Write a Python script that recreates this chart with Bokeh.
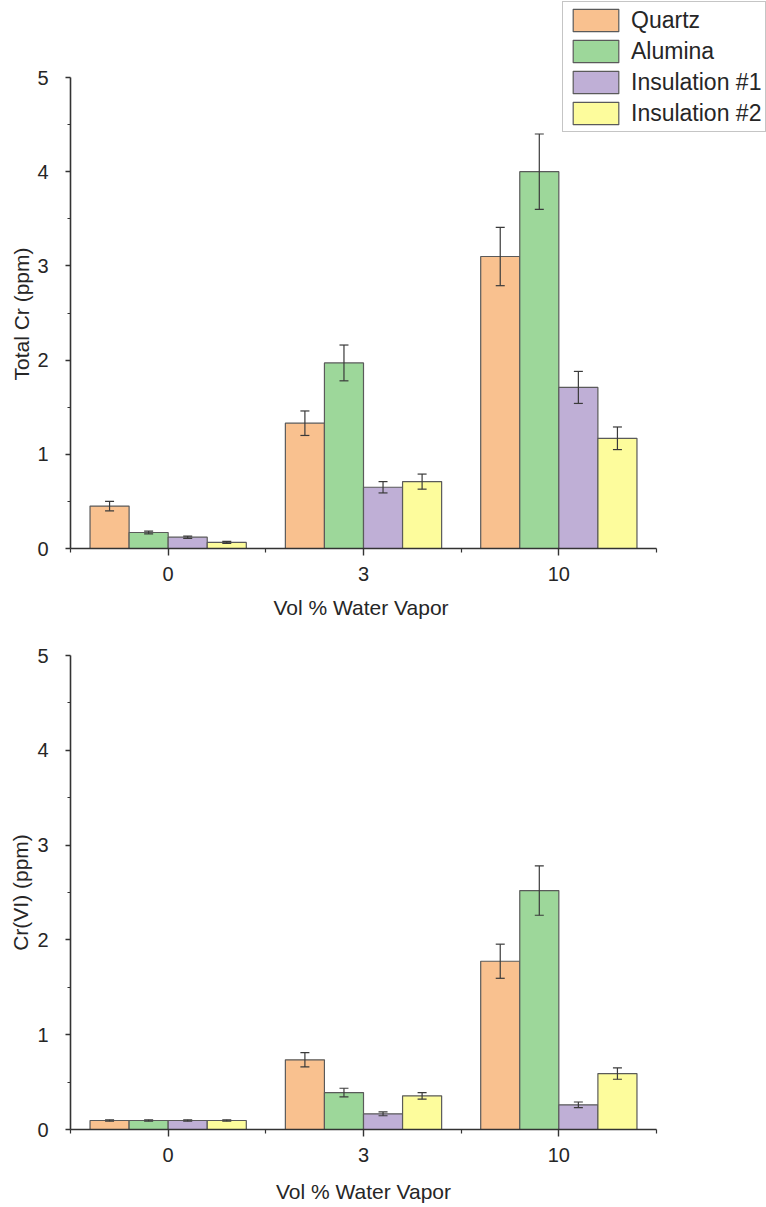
from bokeh.plotting import figure
from bokeh.layouts import column
from bokeh.models import (ColumnDataSource, Whisker, TeeHead, FixedTicker,
                          Legend, LegendItem, Range1d, Title)
from bokeh.transform import dodge
from bokeh.embed import file_html
from bokeh.resources import INLINE

# ---------------- data ----------------
categories = ["0", "3", "10"]          # Vol % water vapor
series = ["Quartz", "Alumina", "Insulation #1", "Insulation #2"]
colors = ["#F9C18F", "#9DD79A", "#BFAFD6", "#FDFC9C"]

# Total Cr (ppm)
total_quartz = [0.45, 1.33, 3.10]
total_quartz_err = [0.05, 0.13, 0.31]
total_alumina = [0.17, 1.97, 4.00]
total_alumina_err = [0.015, 0.19, 0.40]
total_ins1 = [0.12, 0.65, 1.71]
total_ins1_err = [0.012, 0.06, 0.17]
total_ins2 = [0.065, 0.71, 1.17]
total_ins2_err = [0.01, 0.08, 0.12]

# Cr(VI) (ppm)
cr6_quartz = [0.095, 0.735, 1.775]
cr6_quartz_err = [0.008, 0.075, 0.18]
cr6_alumina = [0.095, 0.39, 2.52]
cr6_alumina_err = [0.008, 0.045, 0.26]
cr6_ins1 = [0.095, 0.165, 0.26]
cr6_ins1_err = [0.008, 0.02, 0.03]
cr6_ins2 = [0.095, 0.355, 0.59]
cr6_ins2_err = [0.008, 0.035, 0.06]

x_label = "Vol % Water Vapor"
y_ticks = [0, 1, 2, 3, 4, 5]
y_minor = [0.5, 1.5, 2.5, 3.5, 4.5]
Y_MAX = 5

FONT = "Liberation Sans"
TXT = "#262626"
AX = "#333333"

AXIS_W = 586      # pixel length of the x axis (3 categories)
AXIS_H = 471      # pixel length of the y axis (0..5)
LEFT = 70


def style_axes(p, n):
    xa = p.xaxis[0]
    xa.ticker = FixedTicker(ticks=list(range(n)),
                            minor_ticks=[k - 0.5 for k in range(n + 1)])
    xa.major_label_overrides = {k: c for k, c in enumerate(categories)}
    xa.bounds = (-0.5, n - 0.5)
    ya = p.yaxis[0]
    ya.ticker = FixedTicker(ticks=y_ticks, minor_ticks=y_minor)
    ya.bounds = (0, Y_MAX)
    for ax in (xa, ya):
        ax.axis_line_color = AX
        ax.axis_line_width = 1.6
        ax.major_tick_line_color = AX
        ax.minor_tick_line_color = AX
        ax.major_tick_line_width = 1.4
        ax.minor_tick_line_width = 1.2
        ax.major_tick_in = 0
        ax.minor_tick_in = 0
        ax.major_label_text_font = FONT
        ax.major_label_text_font_size = "20px"
        ax.major_label_text_color = TXT
        ax.axis_label_text_font = FONT
        ax.axis_label_text_font_size = "21px"
        ax.axis_label_text_font_style = "normal"
        ax.axis_label_text_color = TXT
    xa.major_tick_out = 7
    xa.minor_tick_out = 4
    xa.major_label_standoff = 11
    xa.axis_label_standoff = 15
    ya.major_tick_out = 5
    ya.minor_tick_out = 3
    ya.major_label_standoff = 17
    ya.axis_label_standoff = 2
    return xa, ya


def add_bars(p, vals, errs):
    n = len(categories)
    group_w = 0.8
    bar_w = group_w / len(series)
    items = []
    for i, (name, col) in enumerate(zip(series, colors)):
        off = -group_w / 2 + bar_w * (i + 0.5)
        v = vals[i]
        e = errs[i]
        src = ColumnDataSource(dict(
            xi=list(range(n)), top=v,
            upper=[a + b for a, b in zip(v, e)],
            lower=[a - b for a, b in zip(v, e)]))
        r = p.vbar(x=dodge("xi", off, range=p.x_range), top="top", bottom=0,
                   width=bar_w, source=src, fill_color=col,
                   line_color="#5a5a5a", line_width=1.2)
        w = Whisker(base=dodge("xi", off, range=p.x_range), upper="upper",
                    lower="lower", source=src, dimension="height",
                    line_color="#3a3a3a", line_width=1.2, level="overlay",
                    upper_head=TeeHead(size=9, line_color="#3a3a3a", line_width=1.2),
                    lower_head=TeeHead(size=9, line_color="#3a3a3a", line_width=1.2))
        p.add_layout(w)
        items.append(LegendItem(label=name, renderers=[r]))
    return items


def base_fig(**kw):
    p = figure(output_backend="svg", toolbar_location=None, **kw)
    p.xgrid.visible = False
    p.ygrid.visible = False
    p.outline_line_color = None
    p.background_fill_color = "white"
    p.border_fill_color = "white"
    return p


n = len(categories)

# ---------- top figure: frame extended up/right so the legend can sit there ----------
TOP_FRAME_W = 766 - LEFT
TOP_FRAME_H = 548
px_per_x = AXIS_W / n
px_per_y = AXIS_H / Y_MAX
p1 = base_fig(frame_width=TOP_FRAME_W, frame_height=TOP_FRAME_H,
              x_range=Range1d(-0.5, -0.5 + TOP_FRAME_W / px_per_x),
              y_range=Range1d(0, TOP_FRAME_H / px_per_y),
              min_border_left=LEFT, min_border_right=0,
              min_border_top=0, min_border_bottom=92)
items = add_bars(p1, [total_quartz, total_alumina, total_ins1, total_ins2],
                 [total_quartz_err, total_alumina_err, total_ins1_err, total_ins2_err])
style_axes(p1, n)

ylab1 = "Total Cr (ppm)"
# axis titles centred on the axis lines (not on the enlarged frame)
p1.add_layout(Title(text=x_label, align="left", offset=203, standoff=20,
                    text_font=FONT, text_font_size="21px",
                    text_font_style="normal", text_color=TXT), "below")
p1.add_layout(Title(text=ylab1, align="left", offset=168, standoff=4,
                    text_font=FONT, text_font_size="21px",
                    text_font_style="normal", text_color=TXT), "left")

leg = Legend(items=items, location=(492, 416),
             glyph_width=57, glyph_height=28, label_standoff=7,
             spacing=3, padding=4, margin=0,
             label_text_font=FONT, label_text_font_size="23px",
             label_text_color=TXT,
             border_line_color="#8c8c8c", border_line_width=1.5,
             background_fill_color="white", background_fill_alpha=1.0)
p1.add_layout(leg)

# ---------- bottom figure ----------
p2 = base_fig(frame_width=AXIS_W, frame_height=474,
              x_range=Range1d(-0.5, n - 0.5), y_range=Range1d(0, Y_MAX),
              min_border_left=LEFT, min_border_right=766 - LEFT - AXIS_W,
              min_border_top=15, min_border_bottom=78)
add_bars(p2, [cr6_quartz, cr6_alumina, cr6_ins1, cr6_ins2],
         [cr6_quartz_err, cr6_alumina_err, cr6_ins1_err, cr6_ins2_err])
xa2, ya2 = style_axes(p2, n)
xa2.axis_label = x_label
ya2.axis_label = "Cr(VI) (ppm)"

layout = column(p1, p2, spacing=0)
open("out.html", "w").write(file_html(layout, INLINE))
